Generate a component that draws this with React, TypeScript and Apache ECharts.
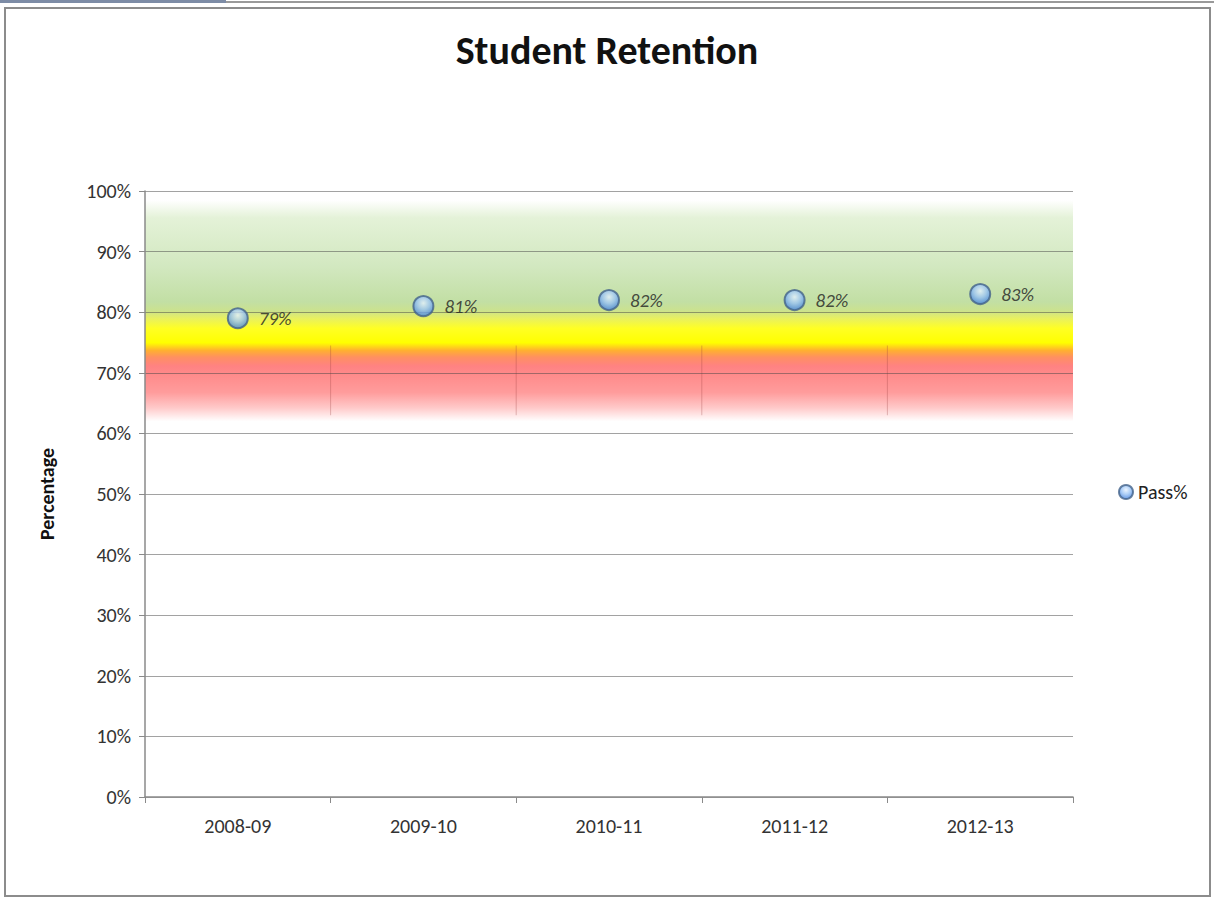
import React, { useEffect, useRef } from "react";
import * as echarts from "echarts";

const categories = ["2008-09", "2009-10", "2010-11", "2011-12", "2012-13"];
const passValues = [79, 81, 82, 82, 83];
const seriesName = "Pass%";
const chartTitle = "Student Retention";
const yAxisName = "Percentage";
// target band (values in %)
const bandTop = 98.5;
const bandBottom = 62;
const dividerTop = 74.5;
const dividerBottom = 63;

const FONT = "Carlito, Lato, 'Open Sans', sans-serif";

export default function App() {
  const ref = useRef<HTMLDivElement>(null);
  useEffect(() => {
    document.body.style.margin = "0";
    const chart = echarts.init(ref.current!, null, { renderer: "svg" });
    const bandGradient = new echarts.graphic.LinearGradient(0, 0, 0, 1, [
      { offset: 0, color: "#ffffff" },
      { offset: 0.08, color: "#e4f2d8" },
      { offset: 0.3, color: "#d2e8c0" },
      { offset: 0.46, color: "#c2dfa4" },
      { offset: 0.5, color: "#cbe28e" },
      { offset: 0.535, color: "#e8f060" },
      { offset: 0.58, color: "#ffff24" },
      { offset: 0.645, color: "#ffff00" },
      { offset: 0.68, color: "#ffb030" },
      { offset: 0.71, color: "#ff9060" },
      { offset: 0.75, color: "#ff8282" },
      { offset: 0.87, color: "#ff9c9c" },
      { offset: 0.94, color: "#ffcaca" },
      { offset: 1, color: "#ffffff" },
    ]);
    const markerFill = new echarts.graphic.RadialGradient(0.5, 0.35, 0.65, [
      { offset: 0, color: "#e6f2ff" },
      { offset: 0.5, color: "#98c2f5" },
      { offset: 1, color: "#3f7fdc" },
    ]);
    chart.setOption({
      animation: false,
      backgroundColor: "#ffffff",
      textStyle: { fontFamily: FONT },
      title: {
        text: chartTitle,
        left: "center",
        top: 25,
        textStyle: { fontSize: 40, fontWeight: "bold", color: "#111", fontFamily: FONT },
      },
      legend: {
        left: 1113,
        top: 477,
        orient: "vertical",
        icon: "circle",
        itemWidth: 14,
        itemHeight: 14,
        itemGap: 4,
        data: [{ name: seriesName }],
        textStyle: { fontSize: 20, color: "#222", fontFamily: FONT },
      },
      grid: { left: 145, right: 141, top: 191, bottom: 100, containLabel: false },
      xAxis: {
        type: "category",
        data: categories,
        boundaryGap: true,
        axisLine: { lineStyle: { color: "#8a8a8a", width: 1.5 } },
        axisTick: { show: true, length: 6, lineStyle: { color: "#8a8a8a" } },
        axisLabel: { fontSize: 20, color: "#333", margin: 19, fontFamily: FONT },
        splitLine: { show: false },
      },
      yAxis: {
        type: "value",
        min: 0,
        max: 100,
        interval: 10,
        name: yAxisName,
        nameLocation: "middle",
        nameGap: 88,
        nameRotate: 90,
        nameTextStyle: { fontSize: 20, fontWeight: "bold", color: "#111", fontFamily: FONT },
        axisLine: { show: true, lineStyle: { color: "#8a8a8a", width: 1.5 } },
        axisTick: { show: true, length: 6, lineStyle: { color: "#8a8a8a" } },
        axisLabel: { formatter: "{value}%", fontSize: 20, color: "#333", margin: 14, fontFamily: FONT },
        splitLine: { show: true, lineStyle: { color: "rgba(70,70,70,0.5)", width: 1.2 } },
      },
      series: [
        {
          type: "custom",
          z: -1,
          silent: true,
          data: [[0, bandTop]],
          renderItem: (params: any, api: any) => {
            const cs = params.coordSys;
            const yTop = api.coord([0, bandTop])[1];
            const yBot = api.coord([0, bandBottom])[1];
            const dTop = api.coord([0, dividerTop])[1];
            const dBot = api.coord([0, dividerBottom])[1];
            const n = categories.length;
            const children: any[] = [
              {
                type: "rect",
                shape: { x: cs.x, y: yTop, width: cs.width, height: yBot - yTop },
                style: { fill: bandGradient },
              },
            ];
            for (let i = 1; i < n; i++) {
              const x = cs.x + (cs.width * i) / n;
              children.push({
                type: "line",
                shape: { x1: x, y1: dTop, x2: x, y2: dBot },
                style: { stroke: "rgba(150,60,60,0.3)", lineWidth: 1 },
              });
            }
            return { type: "group", children };
          },
        },
        {
          name: seriesName,
          type: "scatter",
          data: passValues,
          z: 5,
          symbol: "circle",
          symbolSize: 20,
          itemStyle: { color: markerFill, borderColor: "#44638a", borderWidth: 2 },
          label: {
            show: true,
            position: "right",
            distance: 10,
            formatter: "{c}%",
            fontSize: 19,
            fontStyle: "italic",
            color: "#222",
            fontFamily: FONT,
          },
        },
      ],
      graphic: [
        { type: "rect", shape: { x: 0, y: 0, width: 226, height: 3 }, style: { fill: "#7d8ca6" } },
        { type: "rect", shape: { x: 226, y: 1, width: 988, height: 2 }, style: { fill: "#9a9a9a" } },
        {
          type: "rect",
          shape: { x: 5, y: 8, width: 1205, height: 888 },
          style: { fill: "none", stroke: "#8c8c8c", lineWidth: 2 },
          silent: true,
        },
      ],
    });
    return () => chart.dispose();
  }, []);
  return (
    <div
      ref={ref}
      style={{ position: "absolute", left: 0, top: 0, width: 1214, height: 897 }}
    />
  );
}
